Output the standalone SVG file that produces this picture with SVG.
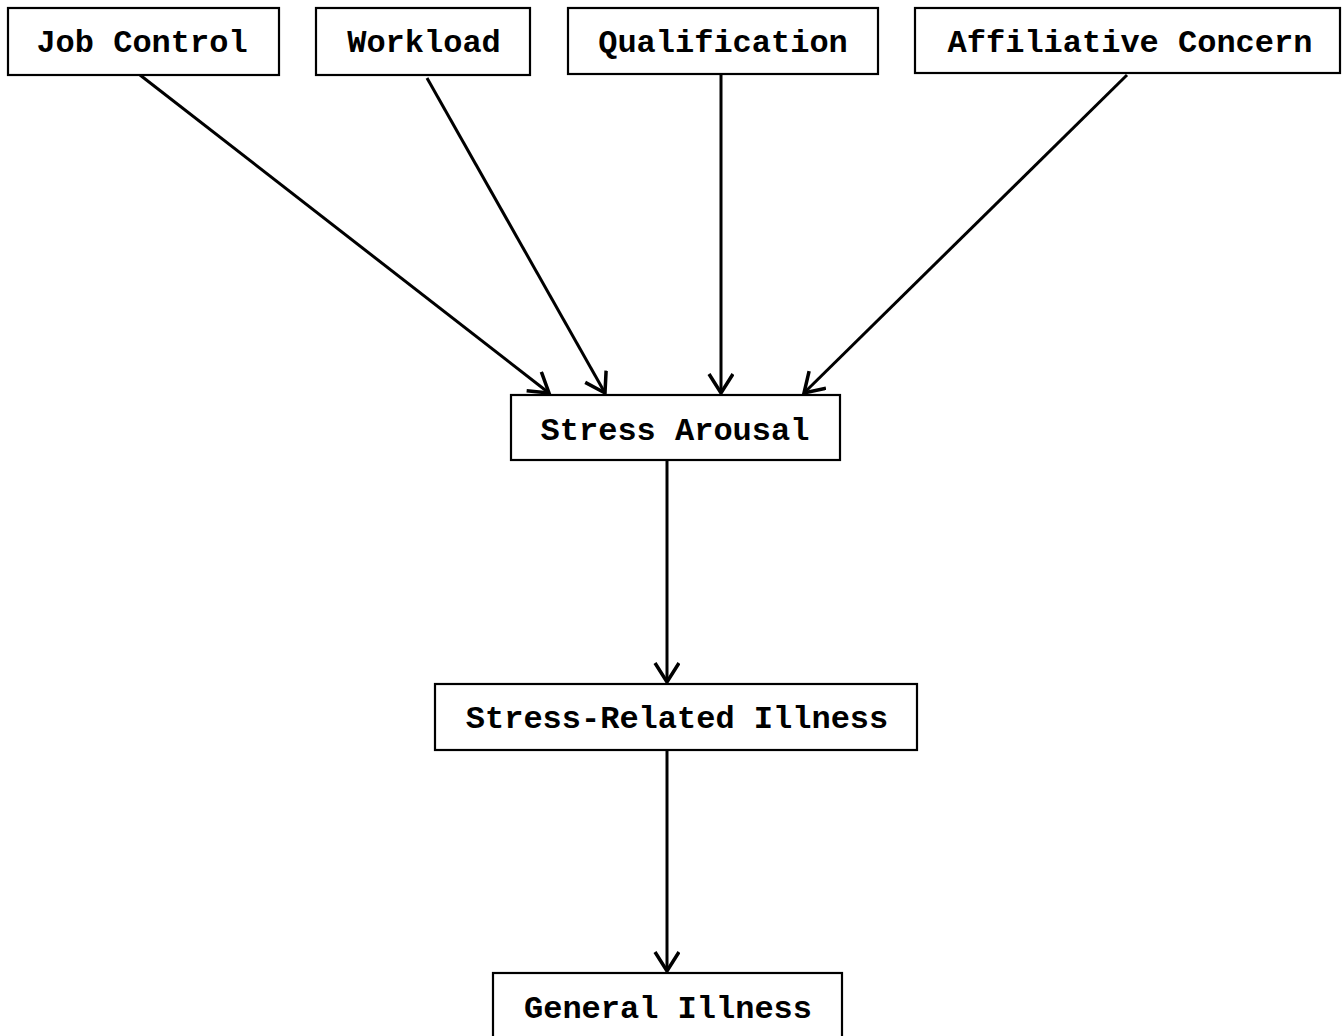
<svg xmlns="http://www.w3.org/2000/svg" width="1342" height="1036" viewBox="0 0 1342 1036">
<style>
.box{fill:#fff;stroke:#000;stroke-width:2.2}
.lbl{font-family:"Liberation Mono","Courier New",monospace;font-weight:bold;font-size:32px;fill:#000;text-anchor:middle}
.edge{stroke:#000;stroke-width:3;fill:none}
</style>
<defs>
<marker id="arr" markerUnits="userSpaceOnUse" markerWidth="30" markerHeight="30" refX="21" refY="13" orient="auto">
<path d="M2,1 L21,13 L2,25" fill="none" stroke="#000" stroke-width="3.5"/>
</marker>
</defs>
<rect width="1342" height="1036" fill="#fff"/>
<g id="connectors">
<line class="edge" x1="140" y1="75" x2="549" y2="393" marker-end="url(#arr)"/>
<line class="edge" x1="427" y1="78" x2="605" y2="393" marker-end="url(#arr)"/>
<line class="edge" x1="721" y1="75" x2="721" y2="393" marker-end="url(#arr)"/>
<line class="edge" x1="1127" y1="75" x2="804" y2="393" marker-end="url(#arr)"/>
<line class="edge" x1="667" y1="461" x2="667" y2="682" marker-end="url(#arr)"/>
<line class="edge" x1="667" y1="751" x2="667" y2="971" marker-end="url(#arr)"/>
</g>
<g id="job-control">
<rect class="box" x="8" y="8" width="271" height="67"/>
<text class="lbl" x="142" y="52">Job Control</text>
</g>
<g id="workload">
<rect class="box" x="316" y="8" width="214" height="67"/>
<text class="lbl" x="424" y="52">Workload</text>
</g>
<g id="qualification">
<rect class="box" x="568" y="8" width="310" height="66"/>
<text class="lbl" x="723" y="52">Qualification</text>
</g>
<g id="affiliative-concern">
<rect class="box" x="915" y="8" width="425" height="65"/>
<text class="lbl" x="1130" y="52">Affiliative Concern</text>
</g>
<g id="stress-arousal">
<rect class="box" x="511" y="395" width="329" height="65"/>
<text class="lbl" x="675" y="440">Stress Arousal</text>
</g>
<g id="stress-related-illness">
<rect class="box" x="435" y="684" width="482" height="66"/>
<text class="lbl" x="677" y="728">Stress-Related Illness</text>
</g>
<g id="general-illness">
<rect class="box" x="493" y="973" width="349" height="70"/>
<text class="lbl" x="668" y="1018">General Illness</text>
</g>
</svg>
